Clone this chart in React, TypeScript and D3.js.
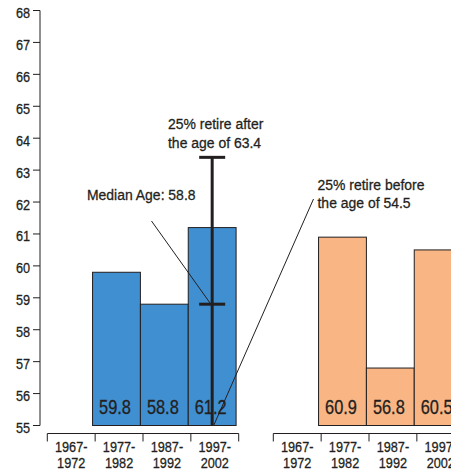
import React from "react";
import * as d3 from "d3";

const periods = ["1967-1972", "1977-1982", "1987-1992", "1997-2002"];
const blueValues: (number | null)[] = [null, 59.8, 58.8, 61.2];
const orangeValues: (number | null)[] = [null, 60.9, 56.8, 60.5];
const yTicks = [55, 56, 57, 58, 59, 60, 61, 62, 63, 64, 65, 66, 67, 68];
const whiskerPeriod = "1997-2002";
const whiskerLow = 54.5;
const whiskerMedian = 58.8;
const whiskerHigh = 63.4;
const upperNote = ["25% retire after", "the age of 63.4"];
const lowerNote = ["25% retire before", "the age of 54.5"];
const medianNote = "Median Age: 58.8";

const W = 451;
const H = 472;
const FONT = "'Liberation Sans', Arial, sans-serif";
const INK = "#231f20";
const BLUE = "#3f8fd1";
const ORANGE = "#f9b584";

const y = d3.scaleLinear().domain([55, 68]).range([425.5, 10.5]);
const xBlue = d3.scaleBand<string>().domain(periods).range([47.3, 238.7]);
const xOrange = d3.scaleBand<string>().domain(periods).range([273.3, 464.7]);
const BAR_SHIFT = -2.6;

function CText({
  x,
  y: ty,
  size,
  sx = 0.82,
  anchor = "start",
  children,
}: {
  x: number;
  y: number;
  size: number;
  sx?: number;
  anchor?: string;
  children: React.ReactNode;
}) {
  return (
    <text
      transform={`translate(${x},${ty}) scale(${sx},1)`}
      textAnchor={anchor as any}
      fontSize={size}
      fontFamily={FONT}
      fill={INK}
      stroke={INK}
      strokeWidth={0.3}
    >
      {children}
    </text>
  );
}

function Panel({ x, values, fill }: { x: d3.ScaleBand<string>; values: (number | null)[]; fill: string }) {
  const [r0, r1] = x.range();
  const axisY = 433.5;
  return (
    <g>
      {periods.map((p, i) => {
        const v = values[i];
        if (v == null) return null;
        const x0 = (x(p) as number) + BAR_SHIFT;
        return (
          <g key={p}>
            <rect
              x={x0}
              y={y(v)}
              width={x.bandwidth()}
              height={y(55) - y(v)}
              fill={fill}
              stroke={INK}
              strokeWidth={1}
            />
            <CText x={x0 + x.bandwidth() / 2 - 1.5} y={413.5} size={20} anchor="middle">
              {v.toFixed(1)}
            </CText>
          </g>
        );
      })}
      <line x1={r0} x2={r1} y1={axisY} y2={axisY} stroke={INK} strokeWidth={1} />
      {[...periods.map((p) => x(p) as number), r1].map((t, i) => (
        <line key={i} x1={t} x2={t} y1={axisY} y2={axisY + 8} stroke={INK} strokeWidth={1} />
      ))}
      {periods.map((p) => {
        const [a, b] = p.split("-");
        const cx = (x(p) as number) + x.bandwidth() / 2;
        return (
          <g key={p}>
            <CText x={cx} y={452} size={15.5} anchor="middle">{a + "-"}</CText>
            <CText x={cx} y={467.5} size={15.5} anchor="middle">{b}</CText>
          </g>
        );
      })}
    </g>
  );
}

export default function App() {
  const axisX = 40;
  const wx = (xBlue(whiskerPeriod) as number) + BAR_SHIFT + xBlue.bandwidth() / 2;
  const capHalf = 13;
  return (
    <svg
      width={W}
      height={H}
      viewBox={`0 0 ${W} ${H}`}
      style={{ position: "absolute", left: 0, top: 0, display: "block", background: "#fff" }}
    >
      {/* y axis */}
      <line x1={axisX} x2={axisX} y1={y(68)} y2={y(55)} stroke={INK} strokeWidth={1} />
      {yTicks.map((t) => (
        <g key={t}>
          <line x1={axisX - 7} x2={axisX} y1={y(t)} y2={y(t)} stroke={INK} strokeWidth={1} />
          <CText x={axisX - 10} y={y(t) + 7.5} size={15.5} anchor="end">
            {t}
          </CText>
        </g>
      ))}

      <Panel x={xBlue} values={blueValues} fill={BLUE} />
      <Panel x={xOrange} values={orangeValues} fill={ORANGE} />

      {/* whisker */}
      <line
        x1={wx}
        x2={wx}
        y1={y(whiskerHigh)}
        y2={y(Math.max(whiskerLow, 55))}
        stroke={INK}
        strokeWidth={3}
      />
      <line x1={wx - capHalf} x2={wx + capHalf} y1={y(whiskerHigh)} y2={y(whiskerHigh)} stroke={INK} strokeWidth={3} />
      <line x1={wx - capHalf} x2={wx + capHalf} y1={y(whiskerMedian)} y2={y(whiskerMedian)} stroke={INK} strokeWidth={3} />

      {/* leader lines */}
      <line x1={151.5} y1={221} x2={wx - 2} y2={y(whiskerMedian) - 1} stroke={INK} strokeWidth={1} />
      <line x1={313.5} y1={199} x2={wx + 1.5} y2={y(55)} stroke={INK} strokeWidth={1} />

      {/* annotations */}
      <CText x={168} y={129} size={15.5} sx={0.9}>{upperNote[0]}</CText>
      <CText x={168} y={147.5} size={15.5} sx={0.9}>{upperNote[1]}</CText>
      <CText x={87} y={200} size={15.5} sx={0.9}>{medianNote}</CText>
      <CText x={317.5} y={190} size={15.5} sx={0.9}>{lowerNote[0]}</CText>
      <CText x={317.5} y={208} size={15.5} sx={0.9}>{lowerNote[1]}</CText>
    </svg>
  );
}
